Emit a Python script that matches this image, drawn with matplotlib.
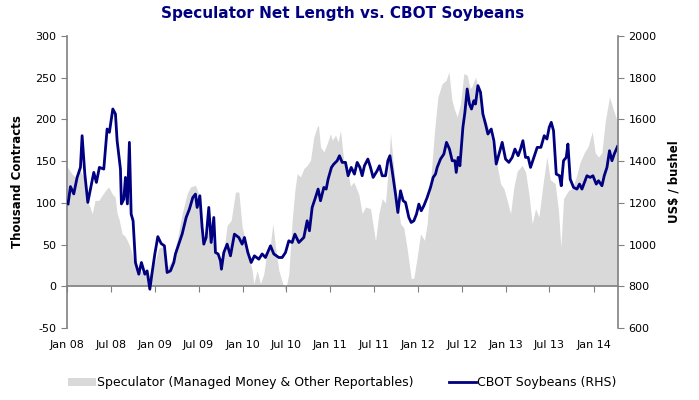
import numpy as np
import pandas as pd
import matplotlib
matplotlib.use('Agg')
import matplotlib.pyplot as plt
import matplotlib.dates as mdates
from matplotlib.patches import Patch
from matplotlib.lines import Line2D

plt.rcParams['axes.unicode_minus'] = False

# Speculator net length (thousand contracts), dates as decimal years
spec_t = [2008.003, 2008.054, 2008.091, 2008.148, 2008.186, 2008.225, 2008.262, 2008.285,
          2008.319, 2008.361, 2008.399, 2008.437, 2008.475, 2008.513, 2008.547, 2008.570,
          2008.593, 2008.627, 2008.661, 2008.684, 2008.707, 2008.741, 2008.775, 2008.798,
          2008.832, 2008.874, 2008.931, 2008.966, 2009.007, 2009.041, 2009.064, 2009.083,
          2009.117, 2009.140, 2009.197, 2009.254, 2009.311, 2009.368, 2009.406, 2009.463,
          2009.501, 2009.539, 2009.577, 2009.615, 2009.653, 2009.710, 2009.748, 2009.786,
          2009.824, 2009.870, 2009.919, 2009.957, 2009.995, 2010.052, 2010.109, 2010.128,
          2010.166, 2010.204, 2010.242, 2010.280, 2010.318, 2010.345, 2010.375, 2010.413,
          2010.459, 2010.489, 2010.527, 2010.565, 2010.596, 2010.622, 2010.660, 2010.698,
          2010.736, 2010.774, 2010.812, 2010.850, 2010.865, 2010.888, 2010.926, 2010.964,
          2011.002, 2011.021, 2011.059, 2011.089, 2011.116, 2011.154, 2011.192, 2011.230,
          2011.268, 2011.325, 2011.363, 2011.401, 2011.458, 2011.515, 2011.553, 2011.591,
          2011.629, 2011.667, 2011.686, 2011.716, 2011.754, 2011.800, 2011.838, 2011.876,
          2011.922, 2011.952, 2011.990, 2012.028, 2012.073, 2012.104, 2012.142, 2012.187,
          2012.226, 2012.275, 2012.321, 2012.351, 2012.386, 2012.412, 2012.446, 2012.484,
          2012.522, 2012.560, 2012.594, 2012.617, 2012.655, 2012.693, 2012.750, 2012.807,
          2012.864, 2012.902, 2012.940, 2012.978, 2013.016, 2013.054, 2013.092, 2013.130,
          2013.187, 2013.225, 2013.263, 2013.301, 2013.339, 2013.377, 2013.430, 2013.468,
          2013.506, 2013.563, 2013.601, 2013.628, 2013.658, 2013.715, 2013.757, 2013.803,
          2013.848, 2013.894, 2013.939, 2013.985, 2014.019, 2014.057, 2014.095, 2014.133,
          2014.182, 2014.228, 2014.273]
spec_v = [143, 135, 131, 139, 131, 103, 95, 87,
          103, 103, 109, 115, 119, 111, 107, 87,
          80, 63, 60, 55, 50, 39, 25, 23,
          18, 17, 13, 19, 31, 45, 47, 47,
          28, 23, 31, 55, 87, 111, 119, 121,
          111, 59, 51, 71, 55, 35, 31, 43,
          73, 79, 113, 113, 71, 47, 19, 3,
          19, 3, 15, 43, 51, 75, 47, 19,
          3, -5, 15, 79, 115, 135, 131, 141,
          145, 151, 179, 191, 193, 167, 161, 171,
          183, 175, 181, 173, 187, 149, 141, 120,
          125, 110, 87, 95, 93, 54, 87, 105,
          100, 151, 183, 150, 110, 75, 70, 45,
          9, 10, 35, 63, 55, 75, 125, 185,
          227, 243, 247, 257, 223, 213, 203, 219,
          255, 253, 237, 240, 251, 233, 205, 189,
          160, 145, 123, 117, 103, 87, 119, 138,
          145, 137, 111, 75, 93, 83, 127, 155,
          128, 123, 90, 47, 105, 115, 117, 131,
          149, 160, 168, 185, 160, 155, 160, 197,
          227, 211, 197]

# CBOT soybeans (US$ / bushel, in cents)
soy_t = [2008.011, 2008.038, 2008.076, 2008.114, 2008.152, 2008.171, 2008.202, 2008.236,
         2008.266, 2008.304, 2008.334, 2008.368, 2008.418, 2008.456, 2008.482, 2008.521,
         2008.551, 2008.570, 2008.608, 2008.619, 2008.646, 2008.665, 2008.687, 2008.710,
         2008.730, 2008.752, 2008.779, 2008.817, 2008.847, 2008.886, 2008.912, 2008.943,
         2008.969, 2009.000, 2009.034, 2009.072, 2009.109, 2009.140, 2009.178, 2009.216,
         2009.235, 2009.273, 2009.311, 2009.357, 2009.394, 2009.433, 2009.463, 2009.482,
         2009.513, 2009.539, 2009.558, 2009.585, 2009.615, 2009.642, 2009.672, 2009.691,
         2009.721, 2009.748, 2009.759, 2009.786, 2009.824, 2009.862, 2009.907, 2009.957,
         2009.995, 2010.021, 2010.060, 2010.098, 2010.135, 2010.185, 2010.223, 2010.261,
         2010.318, 2010.356, 2010.413, 2010.451, 2010.489, 2010.527, 2010.565, 2010.596,
         2010.641, 2010.698, 2010.736, 2010.762, 2010.793, 2010.831, 2010.861, 2010.888,
         2010.926, 2010.953, 2010.975, 2011.013, 2011.040, 2011.078, 2011.104, 2011.135,
         2011.173, 2011.203, 2011.238, 2011.275, 2011.306, 2011.337, 2011.363, 2011.389,
         2011.428, 2011.458, 2011.488, 2011.534, 2011.560, 2011.591, 2011.629, 2011.656,
         2011.679, 2011.705, 2011.743, 2011.770, 2011.800, 2011.830, 2011.857, 2011.895,
         2011.922, 2011.952, 2011.982, 2012.009, 2012.036, 2012.066, 2012.104, 2012.142,
         2012.172, 2012.199, 2012.218, 2012.256, 2012.294, 2012.324, 2012.358, 2012.389,
         2012.420, 2012.435, 2012.457, 2012.477, 2012.511, 2012.534, 2012.560, 2012.586,
         2012.609, 2012.636, 2012.655, 2012.682, 2012.712, 2012.739, 2012.769, 2012.796,
         2012.834, 2012.864, 2012.891, 2012.928, 2012.959, 2012.997, 2013.035, 2013.073,
         2013.104, 2013.141, 2013.168, 2013.195, 2013.225, 2013.255, 2013.282, 2013.320,
         2013.358, 2013.400, 2013.438, 2013.469, 2013.495, 2013.518, 2013.544, 2013.575,
         2013.612, 2013.632, 2013.658, 2013.689, 2013.708, 2013.734, 2013.772, 2013.811,
         2013.840, 2013.868, 2013.897, 2013.925, 2013.962, 2013.993, 2014.031, 2014.057,
         2014.096, 2014.122, 2014.153, 2014.182, 2014.210, 2014.236, 2014.273]
soy_v = [1195, 1278, 1243, 1322, 1370, 1522, 1338, 1202,
         1266, 1346, 1298, 1370, 1362, 1554, 1538, 1650,
         1626, 1498, 1362, 1195, 1218, 1322, 1195, 1490,
         1146, 1114, 914, 858, 914, 858, 874, 786,
         866, 955, 1038, 1005, 994, 866, 874, 914,
         955, 1002, 1050, 1130, 1170, 1226, 1242, 1178,
         1234, 1082, 1002, 1034, 1178, 1010, 1130, 962,
         955, 922, 882, 962, 1002, 946, 1050, 1034,
         1002, 1034, 962, 914, 946, 930, 955, 938,
         994, 955, 938, 938, 962, 1018, 1010, 1050,
         1010, 1034, 1114, 1066, 1178, 1226, 1266, 1210,
         1274, 1266, 1314, 1370, 1386, 1402, 1426, 1394,
         1394, 1330, 1370, 1338, 1394, 1370, 1330, 1378,
         1410, 1370, 1322, 1354, 1378, 1330, 1330, 1402,
         1426, 1354, 1242, 1154, 1258, 1210, 1202, 1130,
         1106, 1114, 1146, 1194, 1162, 1186, 1226, 1274,
         1322, 1338, 1370, 1410, 1434, 1490, 1458, 1402,
         1402, 1346, 1418, 1378, 1562, 1634, 1746, 1674,
         1650, 1690, 1674, 1762, 1730, 1626, 1578, 1530,
         1554, 1498, 1386, 1442, 1490, 1410, 1394, 1418,
         1458, 1426, 1458, 1498, 1418, 1418, 1370, 1418,
         1466, 1466, 1522, 1506, 1562, 1586, 1546, 1338,
         1330, 1282, 1402, 1418, 1482, 1314, 1274, 1266,
         1290, 1266, 1298, 1330, 1322, 1330, 1290, 1306,
         1282, 1330, 1370, 1450, 1402, 1434, 1470]


def to_date(years):
    years = np.asarray(years)
    return pd.Timestamp('2008-01-01') + pd.to_timedelta((years - 2008) * 365.25, unit='D')


spec_d = to_date(spec_t)
soy_d = to_date(soy_t)

navy = '#000080'
grey_fill = '#d9d9d9'
axis_grey = '#808080'

fig = plt.figure(figsize=(6.99, 4.0), dpi=100)
ax = fig.add_axes([0.096, 0.18, 0.788, 0.73])
ax2 = ax.twinx()

ax.fill_between(spec_d, 0, spec_v, color=grey_fill, linewidth=0)
ax2.plot(soy_d, soy_v, color=navy, linewidth=2.0)

ax.set_ylim(-50, 300)
ax.set_yticks(np.arange(-50, 301, 50))
ax2.set_ylim(600, 2000)
ax2.set_yticks(np.arange(600, 2001, 200))
ax.set_xlim(pd.Timestamp('2008-01-01'), pd.Timestamp('2014-04-12'))

# x axis line crosses at zero, labels stay at the bottom
ax.spines['bottom'].set_position(('data', 0))
ax.xaxis.set_major_locator(mdates.MonthLocator(bymonth=[1, 7]))
ax.tick_params(axis='x', labelbottom=False, direction='out', length=4, color=axis_grey)
sec = ax.secondary_xaxis('bottom')
sec.xaxis.set_major_locator(mdates.MonthLocator(bymonth=[1, 7]))
sec.xaxis.set_major_formatter(mdates.DateFormatter('%b %y'))
sec.tick_params(axis='x', length=0, labelsize=8, pad=9)
sec.spines['bottom'].set_visible(False)

for a in (ax, ax2):
    a.spines['top'].set_visible(False)
    for s in ('left', 'right', 'bottom'):
        a.spines[s].set_color(axis_grey)
        a.spines[s].set_linewidth(1.2)
ax2.spines['bottom'].set_visible(False)
ax.spines['right'].set_visible(False)
ax2.spines['left'].set_visible(False)

ax.tick_params(axis='y', labelsize=8, length=4, color=axis_grey)
ax2.tick_params(axis='y', labelsize=8, length=4, color=axis_grey)

ax.set_ylabel('Thousand Contracts', fontsize=8.5, fontweight='bold', labelpad=8)
ax2.set_ylabel('US$ / bushel', fontsize=8.5, fontweight='bold', labelpad=8)

fig.suptitle('Speculator Net Length vs. CBOT Soybeans', x=0.49, y=0.985,
             fontsize=11, fontweight='bold', color=navy)

handles = [Patch(facecolor=grey_fill, edgecolor='none'),
           Line2D([0], [0], color=navy, linewidth=2)]
labels = ['Speculator (Managed Money & Other Reportables)', 'CBOT Soybeans (RHS)']
fig.legend(handles, labels, loc='center', bbox_to_anchor=(0.49, 0.043), ncol=2,
           frameon=False, fontsize=9, handlelength=2.2, handletextpad=0.1,
           columnspacing=2.8)

fig.savefig('out.png', dpi=100)
